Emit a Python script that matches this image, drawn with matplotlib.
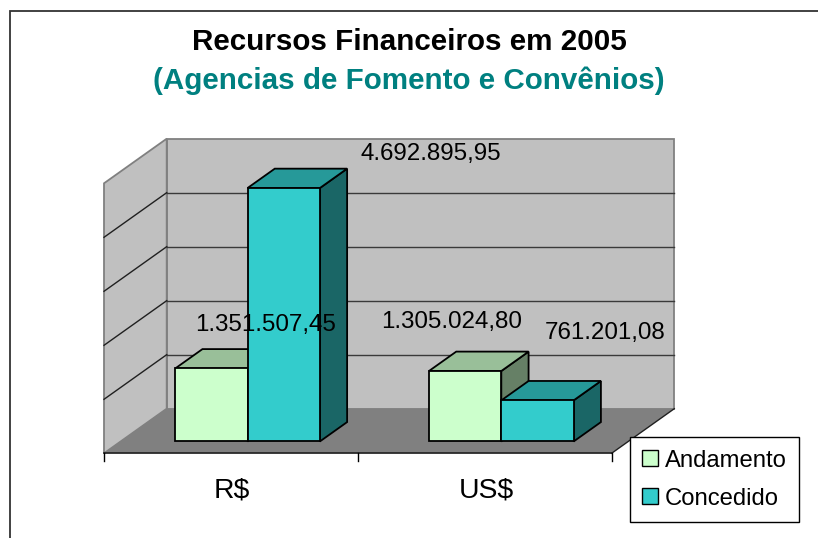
import matplotlib
matplotlib.use('Agg')
import matplotlib.pyplot as plt
from matplotlib.patches import Polygon, Rectangle, Patch

# Chart data
categories = ['R$', 'US$']
series_names = ['Andamento', 'Concedido']
andamento = [1351507.45, 1305024.80]
concedido = [4692895.95, 761201.08]
grid_values = [1000000, 2000000, 3000000, 4000000]
y_max = 5000000

title = 'Recursos Financeiros em 2005'
subtitle = '(Agencias de Fomento e Convênios)'

# Colours: front, top, side of each series
face_colors = {
  'Andamento': ('#CCFFCC', '#99BF99', '#668066'),
  'Concedido': ('#33CCCC', '#269999', '#1A6666'),
}

# Fake 3D geometry (category units / value units)
DEPTH_X = 0.247
DEPTH_Y = 826000
BAR_FRONT = 0.265
BAR_BACK = 0.70
BAR_W = 0.285

# Label offsets in pixels from the top of each bar (Excel puts them oddly)
label_offsets = {
  ('Andamento', 0): (54, 37),
  ('Concedido', 0): (147, 28),
  ('Andamento', 1): (-14, 43),
  ('Concedido', 1): (68, 61),
}


def br_format(v):
  s = '{:,.2f}'.format(v)
  return s.replace(',', '#').replace('.', ',').replace('#', '.')


def proj(x, y, f):
  # move a point back by fraction f of the floor depth
  return (x + f * DEPTH_X, y + f * DEPTH_Y)


def DrawWalls(ax):
  n = len(categories)
  back = [proj(0, 0, 1), proj(n, 0, 1), proj(n, y_max, 1), proj(0, y_max, 1)]
  left = [(0, 0), proj(0, 0, 1), proj(0, y_max, 1), (0, y_max)]
  floor = [(0, 0), (n, 0), proj(n, 0, 1), proj(0, 0, 1)]

  ax.add_patch(Polygon(back, closed=True, facecolor='#C0C0C0', edgecolor='#808080', lw=1.3, zorder=1))
  ax.add_patch(Polygon(left, closed=True, facecolor='#C0C0C0', edgecolor='#808080', lw=1.3, zorder=1))
  ax.add_patch(Polygon(floor, closed=True, facecolor='#808080', edgecolor='none', zorder=2))

  # gridlines on back and left walls
  for g in grid_values:
    x0, y0 = proj(0, g, 1)
    x1, y1 = proj(n, g, 1)
    ax.plot([x0, x1], [y0, y1], color='#3a3a3a', lw=1, zorder=2)
    ax.plot([0, x0], [g, y0], color='#202020', lw=1, zorder=2)

  # front and right edges of the floor, category axis ticks
  xr, yr = proj(n, 0, 1)
  ax.plot([n, xr], [0, yr], color='#202020', lw=1, zorder=3)
  ax.plot([0, n], [0, 0], color='#202020', lw=1.2, zorder=3)
  for t in range(n + 1):
    ax.plot([t, t], [0, -150000], color='black', lw=1, zorder=3)


def DrawBar(ax, x0, value, colors):
  front, top, side = colors
  x1 = x0 + BAR_W
  f0, f1 = BAR_FRONT, BAR_BACK
  front_pts = [proj(x0, 0, f0), proj(x1, 0, f0), proj(x1, value, f0), proj(x0, value, f0)]
  top_pts = [proj(x0, value, f0), proj(x1, value, f0), proj(x1, value, f1), proj(x0, value, f1)]
  side_pts = [proj(x1, 0, f0), proj(x1, 0, f1), proj(x1, value, f1), proj(x1, value, f0)]
  for pts, c in [(side_pts, side), (top_pts, top), (front_pts, front)]:
    ax.add_patch(Polygon(pts, closed=True, facecolor=c, edgecolor='black', lw=1.3,
                         joinstyle='miter', zorder=4))
  return proj(x0 + BAR_W / 2, value, f0)


plt.rcParams['font.family'] = ['Liberation Sans', 'DejaVu Sans']

fig = plt.figure(figsize=(8.18, 5.38), dpi=100)
ax = fig.add_axes([0, 0, 1, 1])

# map so that 1 category = 253.8 px and 1 million = 54 px
ax.set_xlim(-104 / 253.8, 714 / 253.8)
ax.set_ylim(-84.7 / 54 * 1e6, 453.3 / 54 * 1e6)
ax.axis('off')

DrawWalls(ax)

series = {'Andamento': andamento, 'Concedido': concedido}
tops = []
for i, cat in enumerate(categories):
  for j, name in enumerate(series_names):
    x0 = i + 0.5 - BAR_W + j * BAR_W
    top = DrawBar(ax, x0, series[name][i], face_colors[name])
    tops.append((name, i, top))

# data labels
for name, i, top in tops:
  dx, dy = label_offsets[(name, i)]
  ax.annotate(br_format(series[name][i]), xy=top, xytext=(dx, dy), textcoords='offset pixels',
              ha='center', va='baseline', fontsize=17.4, color='black', zorder=6)

# category labels
for i, cat in enumerate(categories):
  ax.text(i + 0.505, -822000, cat, ha='center', va='baseline', fontsize=20.4, zorder=6)

# titles
fig.text(0.5, 1 - 50.5 / 538, title, ha='center', va='baseline', fontsize=21.3, weight='bold')
fig.text(0.5, 1 - 88.5 / 538, subtitle, ha='center', va='baseline', fontsize=21.3,
         weight='bold', color='#008080')

# legend
handles = [Patch(facecolor=face_colors[n][0], edgecolor='black', lw=1) for n in series_names]
leg = ax.legend(handles, series_names, loc='upper left',
                bbox_to_anchor=(630 / 818, 1 - 437.3 / 538), bbox_transform=fig.transFigure,
                borderaxespad=0, fontsize=17.2, frameon=True, fancybox=False, framealpha=1,
                handlelength=0.66, handleheight=0.66, handletextpad=0.28, labelspacing=0.67,
                borderpad=0.52)
leg.get_frame().set_edgecolor('black')
leg.get_frame().set_linewidth(1)
leg.set_zorder(10)

# outer chart border (runs off the right and bottom)
fig.patches.append(Rectangle((10 / 818, -0.05), 1.1, 1 - 11 / 538 + 0.05, transform=fig.transFigure,
                             fill=False, edgecolor='#333333', lw=1.3, zorder=20))

fig.savefig('out.png', dpi=100)
